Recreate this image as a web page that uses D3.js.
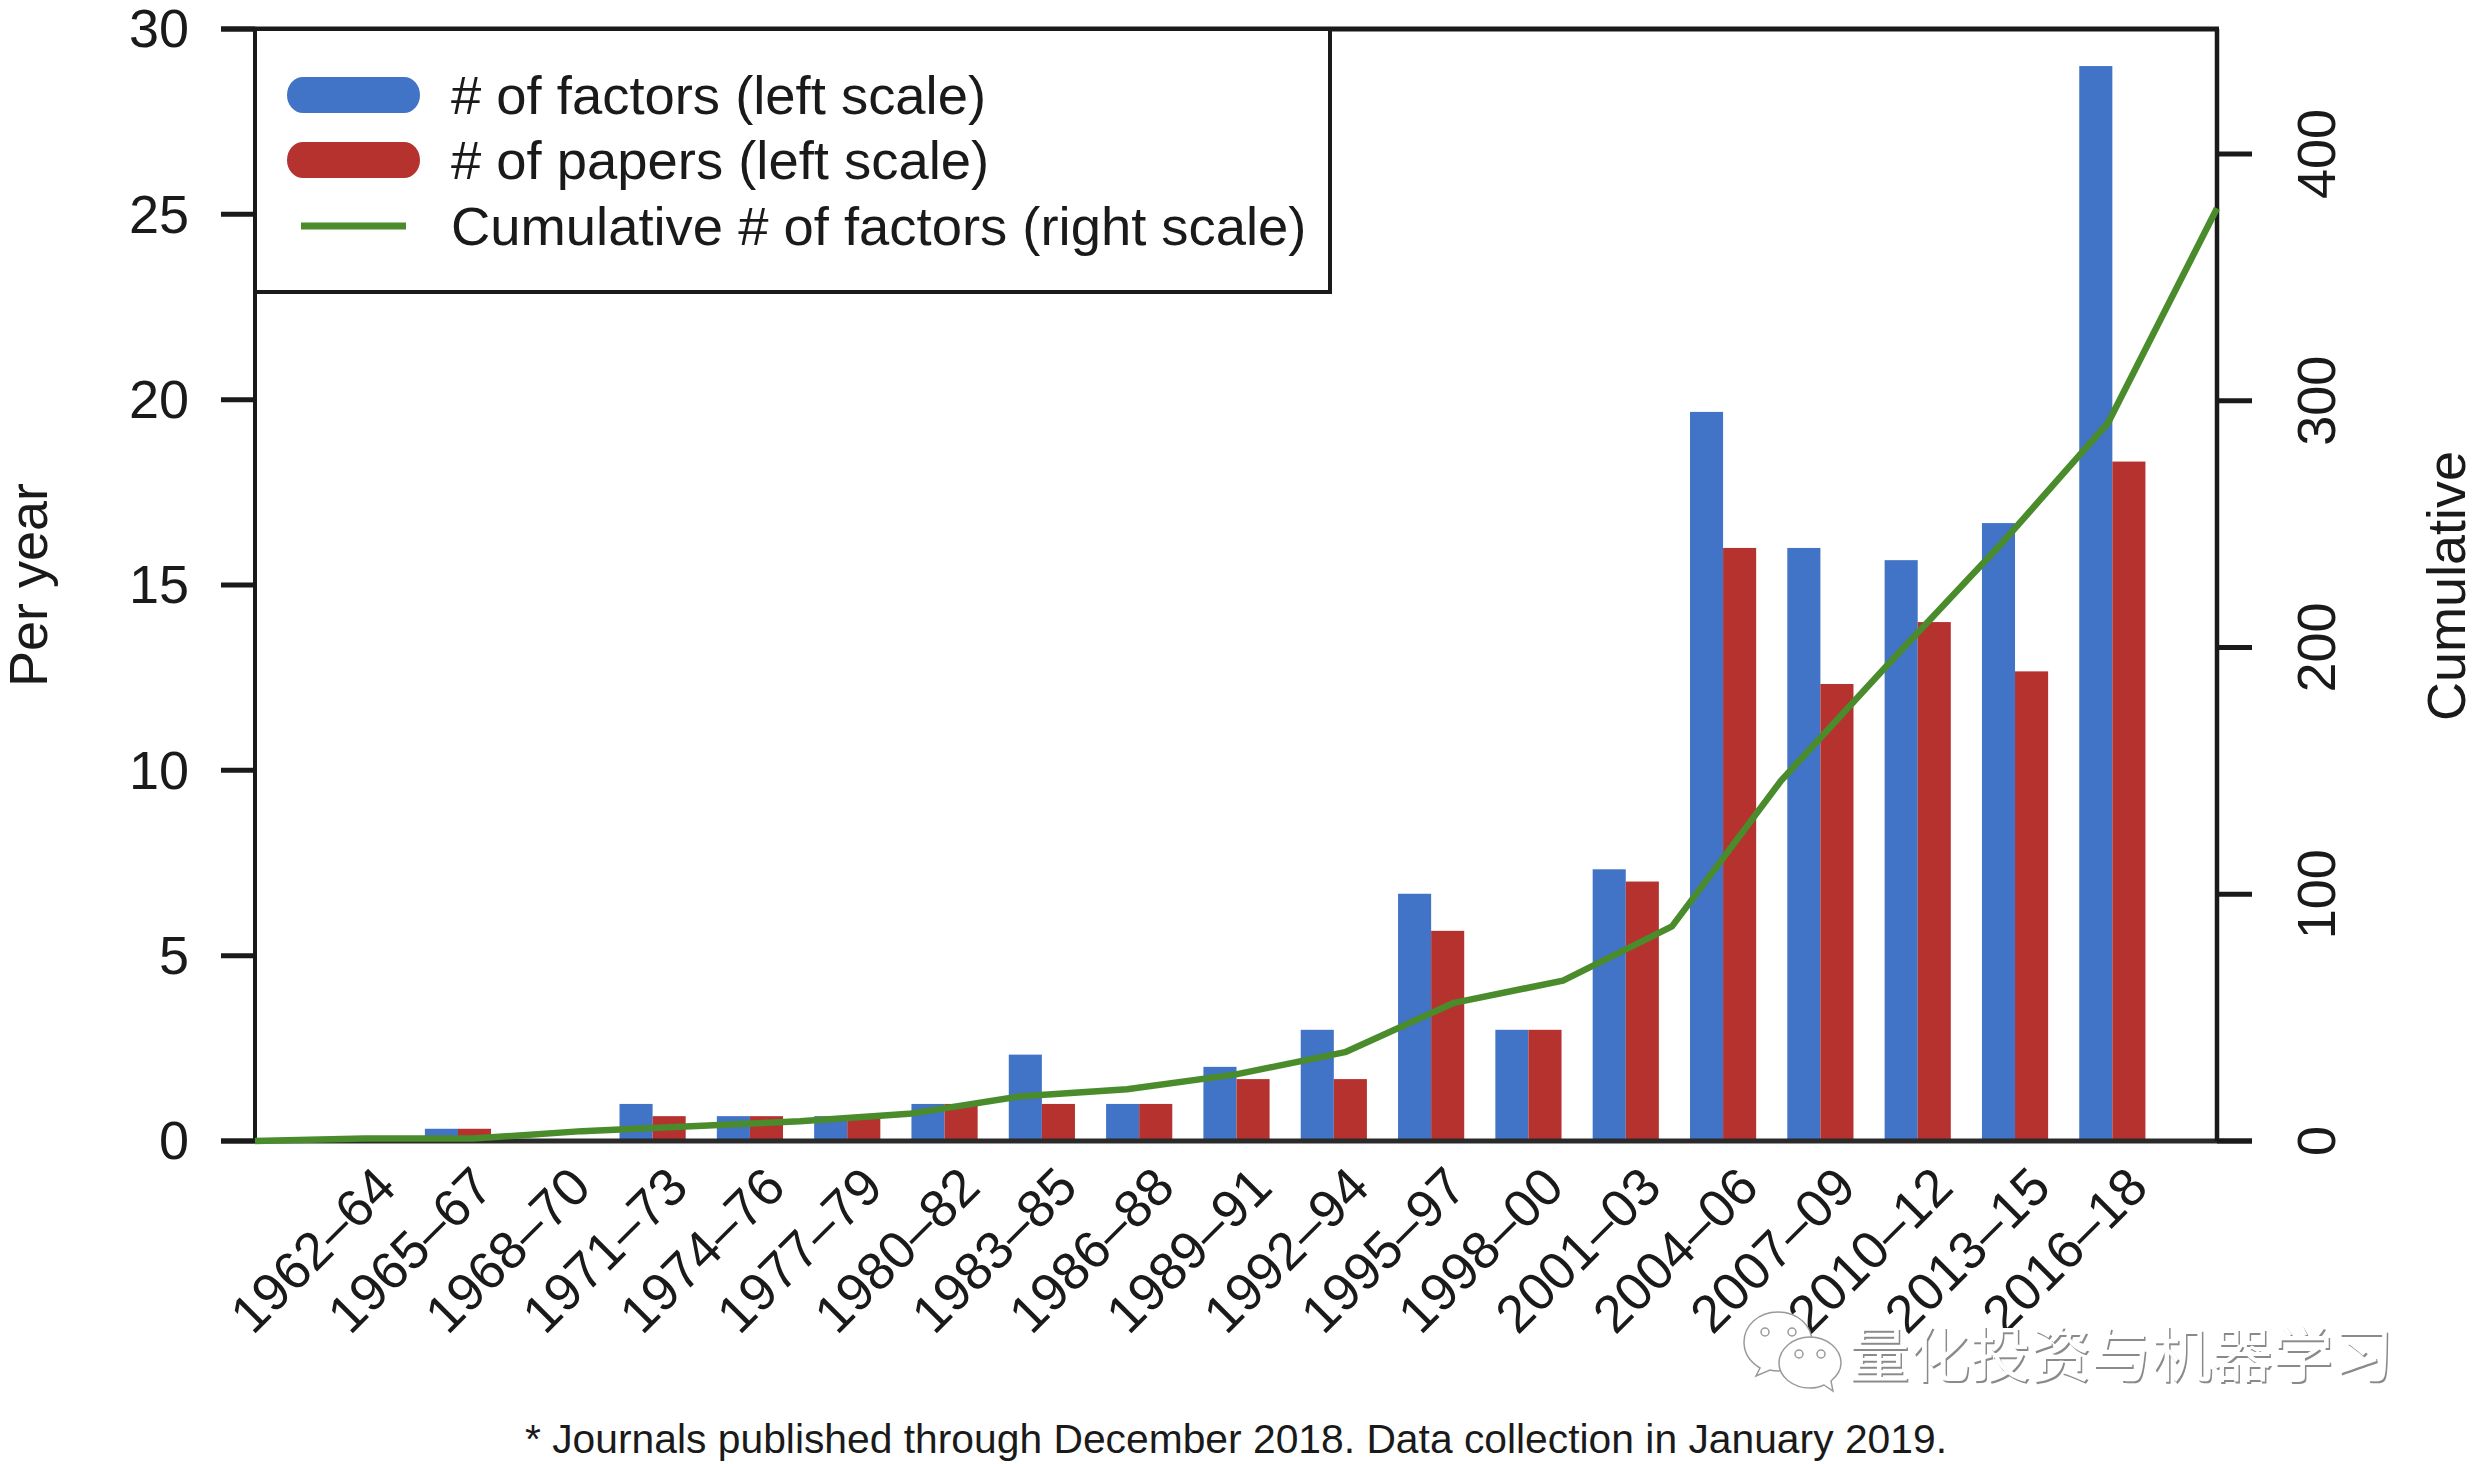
<!DOCTYPE html>
<html>
<head>
<meta charset="utf-8">
<script src="https://cdn.jsdelivr.net/npm/d3@7"></script>
<style>
    html, body { margin: 0; background: #fff; }
    svg { display: block; }
    text { font-family: "Liberation Sans", Arial, sans-serif; fill: #1a1a1a; }
    .axis path, .axis line { stroke: #1a1a1a; }
</style>
</head>
<body>
<svg width="2478" height="1464"></svg>
<script>
const periods = ["1962–64", "1965–67", "1968–70", "1971–73", "1974–76", "1977–79", "1980–82",
    "1983–85", "1986–88", "1989–91", "1992–94", "1995–97", "1998–00", "2001–03", "2004–06",
    "2007–09", "2010–12", "2013–15", "2016–18"];
const factorsPerYear = [0, 0.33, 0, 1, 0.67, 0.67, 1, 2.33, 1, 2, 3, 6.67, 3, 7.33, 19.67, 16, 15.67, 16.67, 29];
const papersPerYear  = [0, 0.33, 0, 0.67, 0.67, 0.67, 1, 1, 1, 1.67, 1.67, 5.67, 3, 7, 16, 12.33, 14, 12.67, 18.33];
const cumulativeFactors = [0, 1, 1, 4, 6, 8, 11, 18, 21, 27, 36, 56, 65, 87, 146, 194, 241, 291, 378];
const leftTicks  = [0, 5, 10, 15, 20, 25, 30];
const rightTicks = [0, 100, 200, 300, 400];
const seriesNames = ["factors", "papers"];
const legendLabels = ["# of factors (left scale)", "# of papers (left scale)", "Cumulative # of factors (right scale)"];

const BLUE = "#4173c6", RED = "#b5322f", GREEN = "#4a8b2c";

const svg = d3.select("svg");
const left = 255, right = 2217, top_ = 29, bottom = 1141;

const x = d3.scaleBand().domain(periods).range([312, 2161]).paddingInner(0.32).paddingOuter(0.16);
const xSeries = d3.scaleBand().domain(seriesNames).range([0, x.bandwidth()]);
const xLine = d3.scalePoint().domain(periods).range([left, right]);
const y = d3.scaleLinear().domain([0, 30]).range([bottom, top_]);
const yRight = d3.scaleLinear().domain([0, 400]).range([bottom, 154]);

// bars
const group = svg.append("g")
    .selectAll("g")
    .data(periods)
    .enter().append("g")
        .attr("transform", d => "translate(" + x(d) + ",0)");

group.append("rect")
    .attr("x", xSeries("factors"))
    .attr("y", (d, i) => y(factorsPerYear[i]))
    .attr("width", xSeries.bandwidth())
    .attr("height", (d, i) => bottom - y(factorsPerYear[i]))
    .attr("fill", BLUE);

group.append("rect")
    .attr("x", xSeries("papers"))
    .attr("y", (d, i) => y(papersPerYear[i]))
    .attr("width", xSeries.bandwidth())
    .attr("height", (d, i) => bottom - y(papersPerYear[i]))
    .attr("fill", RED);

// frame: top and bottom lines run out to the tick ends
svg.append("line").attr("x1", 221).attr("x2", right + 2).attr("y1", top_).attr("y2", top_)
    .attr("stroke", "#1a1a1a").attr("stroke-width", 5);
svg.append("line").attr("x1", 221).attr("x2", 2252).attr("y1", bottom).attr("y2", bottom)
    .attr("stroke", "#2a2a2a").attr("stroke-width", 5);

// axes
const axisLeft = svg.append("g")
    .attr("class", "axis")
    .attr("transform", "translate(" + left + ",0)")
    .call(d3.axisLeft(y).tickValues(leftTicks).tickSize(34).tickSizeOuter(0).tickPadding(32).offset(0));
axisLeft.selectAll("line").attr("stroke-width", 5);
axisLeft.select("path").attr("stroke-width", 4);
axisLeft.selectAll("text")
    .attr("font-size", 54)
    .attr("y", 1)
    .attr("fill", "#1a1a1a");

const axisRight = svg.append("g")
    .attr("class", "axis")
    .attr("transform", "translate(" + right + ",0)")
    .call(d3.axisRight(yRight).tickValues(rightTicks).tickSize(35).tickSizeOuter(0).offset(0));
axisRight.select("path").attr("stroke-width", 4.5)
    .attr("d", "M0," + top_ + "V" + bottom);
axisRight.selectAll("line").attr("stroke-width", 5);
axisRight.selectAll("text")
    .attr("font-size", 54)
    .attr("x", 0).attr("y", 0).attr("dy", 0)
    .attr("text-anchor", "middle")
    .attr("transform", "translate(118,0) rotate(-90)");

const axisBottom = svg.append("g")
    .attr("transform", "translate(0," + bottom + ")")
    .call(d3.axisBottom(x).tickSize(0).offset(0));
axisBottom.select("path").remove();
axisBottom.selectAll("text")
    .attr("font-size", 53)
    .attr("text-anchor", "end")
    .attr("x", 0).attr("y", 0).attr("dy", 0)
    .attr("transform", "translate(38,49) rotate(-45)");

// cumulative line
const line = d3.line()
    .x((d, i) => xLine(periods[i]))
    .y(d => yRight(d));

svg.append("path")
    .datum(cumulativeFactors)
    .attr("d", line)
    .attr("fill", "none")
    .attr("stroke", GREEN)
    .attr("stroke-width", 6.5)
    .attr("stroke-linejoin", "round");

// legend
svg.append("rect")
    .attr("x", left).attr("y", top_)
    .attr("width", 1330 - left).attr("height", 292 - top_)
    .attr("fill", "#fff").attr("stroke", "#1a1a1a").attr("stroke-width", 4);

const legendRows = [
    { y: 95,  color: BLUE },
    { y: 160, color: RED },
    { y: 226, color: GREEN },
];
legendRows.forEach((row, i) => {
    if (i < 2) {
        svg.append("rect")
            .attr("x", 287).attr("y", row.y - 18)
            .attr("width", 133).attr("height", 36)
            .attr("rx", 16).attr("ry", 18)
            .attr("fill", row.color);
    } else {
        svg.append("line")
            .attr("x1", 301).attr("x2", 406)
            .attr("y1", row.y).attr("y2", row.y)
            .attr("stroke", row.color).attr("stroke-width", 7);
    }
    svg.append("text")
        .attr("x", 451)
        .attr("y", row.y + 19)
        .attr("font-size", 54.4)
        .text(legendLabels[i]);
});

// axis titles
svg.append("text")
    .attr("transform", "translate(47,585) rotate(-90)")
    .attr("text-anchor", "middle")
    .attr("font-size", 54)
    .text("Per year");

svg.append("text")
    .attr("transform", "translate(2465,586) rotate(-90)")
    .attr("text-anchor", "middle")
    .attr("font-size", 54)
    .text("Cumulative");

// footnote
svg.append("text")
    .attr("x", 525)
    .attr("y", 1453)
    .attr("font-size", 40.8)
    .text("* Journals published through December 2018. Data collection in January 2019.");

// watermark
const mark = svg.append("g")
    .attr("fill", "#fff")
    .attr("stroke", "#9a9a9a")
    .attr("stroke-width", 1.5);

mark.append("path")
    .attr("d", "M1778,1312C1758,1312 1744,1326 1744,1342C1744,1354 1750,1362 1760,1368L1756,1376L1770,1370C1773,1371 1776,1371 1779,1371L1812,1342C1812,1326 1798,1312 1778,1312Z");
mark.append("path")
    .attr("d", "M1810,1337C1793,1337 1779,1349 1779,1363C1779,1377 1793,1388 1810,1388C1815,1388 1820,1387 1824,1385L1833,1391L1831,1381C1837,1376 1841,1370 1841,1363C1841,1349 1827,1337 1810,1337Z");
[[1765, 1332], [1792, 1332], [1799, 1354], [1821, 1354]].forEach(p => {
    mark.append("circle").attr("cx", p[0]).attr("cy", p[1]).attr("r", 4);
});

svg.append("text")
    .attr("x", 1849)
    .attr("y", 1377)
    .attr("font-size", 60.5)
    .style("font-family", '"Noto Sans CJK SC"')
    .style("fill", "#fff")
    .style("text-shadow", "1.5px 1.5px 0 #8a8a8a")
    .text("量化投资与机器学习");
</script>
</body>
</html>
